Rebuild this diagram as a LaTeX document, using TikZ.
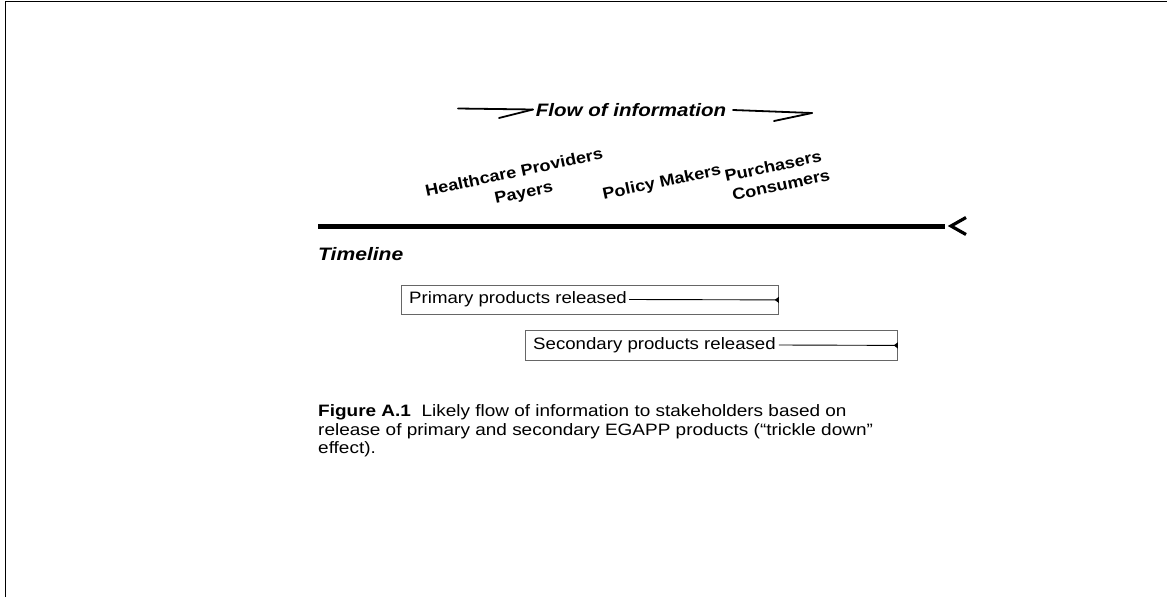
\documentclass[tikz,border=0pt]{standalone}
\usepackage{fontspec}
\setmainfont{Liberation Sans}
\usetikzlibrary{arrows.meta}
\tikzset{
  widen/.style={xscale=#1, transform shape},
  lbl/.style={font=\fontsize{16}{18}\selectfont\bfseries, inner sep=0pt, rotate=12, widen=1.13},
  boxtext/.style={font=\fontsize{16.5}{18}\selectfont, inner sep=0pt, anchor=west, widen=1.13},
  prodbox/.style={draw=black!60, line width=0.8pt, anchor=north west, inner sep=0pt},
  prodline/.style={line width=0.9pt, -{Triangle[reversed, length=4pt, width=6pt]}},
  sketch/.style={line width=1.8pt, line cap=round},
  caption/.style={font=\fontsize{16.5}{18}\selectfont, inner sep=0pt, anchor=base west, widen=1.15}
}
\begin{document}
\begin{tikzpicture}[x=1pt,y=-1pt]
\useasboundingbox (0,0) rectangle (1167,597);
% frame
\draw[line width=1.5pt] (5.5,597) -- (5.5,1.5) -- (1167,1.5);
% flow of information
\node[font=\fontsize{18}{20}\selectfont\bfseries\itshape, inner sep=0pt, widen=1.14] (flow) at (631,110) {Flow of information};
\coordinate (la1) at (458,108.5);
\coordinate (la2) at (533,109.5);
\coordinate (la3) at (499,118);
\coordinate (ra1) at (733,110);
\coordinate (ra2) at (812,113);
\coordinate (ra3) at (774,121);
\draw[sketch] (la1) -- (la2);
\draw[sketch] (la3) -- (la2);
\draw[sketch] (ra1) -- (ra2);
\draw[sketch] (ra3) -- (ra2);
% stakeholders
\node[lbl] (hp) at (514,172) {Healthcare Providers};
\node[lbl] (py) at (524,194) {Payers};
\node[lbl] (pm) at (662,183) {Policy Makers};
\node[lbl] (pu) at (773,166) {Purchasers};
\node[lbl] (co) at (781,185) {Consumers};
% timeline
\coordinate (tl1) at (318,226);
\coordinate (tl2) at (945,226);
\draw[line width=5pt] (tl1) -- (tl2);
\coordinate (ch1) at (966,217.5);
\coordinate (ch2) at (951,226);
\coordinate (ch3) at (966,234.5);
\draw[line width=3.2pt, line join=miter] (ch1) -- (ch2) -- (ch3);
\node[font=\fontsize{18}{20}\selectfont\bfseries\itshape, inner sep=0pt, anchor=west, widen=1.17] (tlt) at (318,254) {Timeline};
% boxes
\node[prodbox, minimum width=377pt, minimum height=29pt] (b1) at (401,285) {};
\node[boxtext] (t1) at (409,299.5) {Primary products released};
\draw[prodline] ([xshift=2pt]t1.east) -- (b1.east);
\node[prodbox, minimum width=372pt, minimum height=30pt] (b2) at (525,330) {};
\node[boxtext] (t2) at (533,345) {Secondary products released};
\draw[prodline] ([xshift=3pt]t2.east) -- (b2.east);
% caption
\node[caption] (c1) at (318,416) {\textbf{Figure A.1}\ \ Likely flow of information to stakeholders based on};
\node[caption] (c2) at (318,435) {release of primary and secondary EGAPP products (“trickle down”};
\node[caption] (c3) at (318,453) {effect).};
\end{tikzpicture}
\end{document}
